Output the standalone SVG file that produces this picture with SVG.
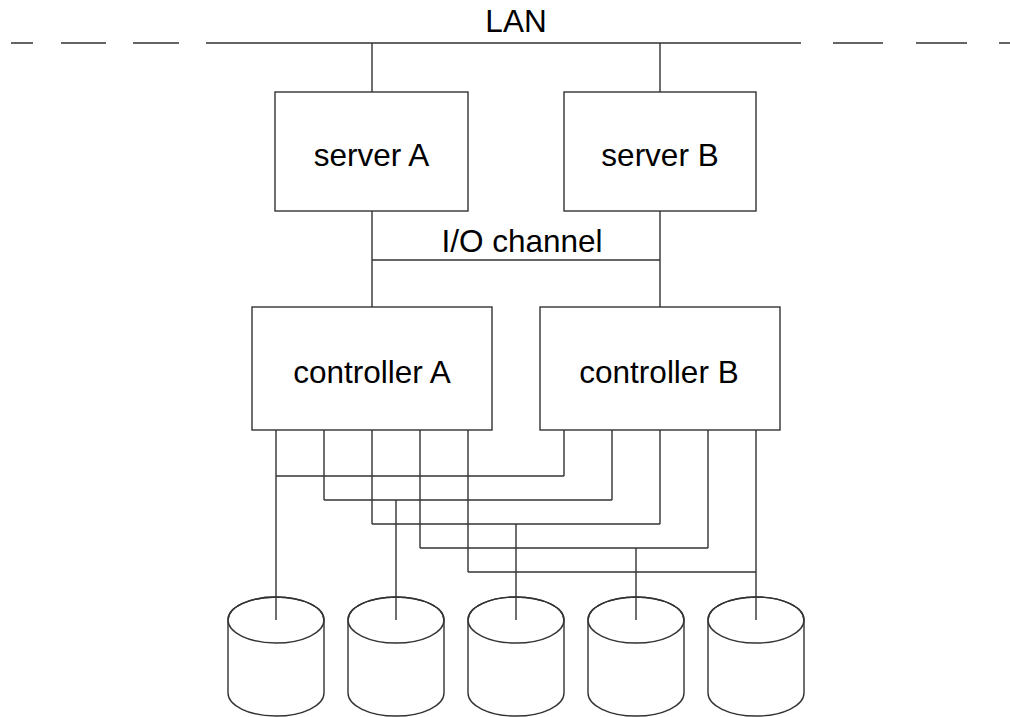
<svg xmlns="http://www.w3.org/2000/svg" width="1010" height="717" viewBox="0 0 1010 717">
<style>
.ln{stroke:#333;stroke-width:1.4;fill:none}
.box{stroke:#333;stroke-width:1.4;fill:#fff}
.t{font-family:"Liberation Sans",Arial,sans-serif;font-size:31.5px;fill:#000;text-anchor:middle}
</style>
<defs>
<g id="disk">
<path class="box" d="M-48,0 V73 A48,23 0 0 0 48,73 V0 A48,23 0 0 0 -48,0 Z"/>
<ellipse class="ln" cx="0" cy="0" rx="48" ry="23"/>
</g>
</defs>
<rect width="1010" height="717" fill="#fff"/>
<g id="lan">
<path class="ln" d="M11,43H33M61,43H106M133,43H179M206,43H801M833,43H883M916,43H967M999,43H1010"/>
<text class="t" x="516" y="32">LAN</text>
</g>
<g id="connectors">
<path class="ln" d="M372,43V92M660,43V92"/>
<path class="ln" d="M372,211V307M660,211V307M372,260H660"/>
<text class="t" x="522" y="252">I/O channel</text>
<path class="ln" d="M276,430V620M324,430V500M372,430V524M420,430V548M468,430V572"/>
<path class="ln" d="M564,430V476M612,430V500M660,430V524M708,430V548M756,430V620"/>
<path class="ln" d="M276,476H564M324,500H612M372,524H660M420,548H708M468,572H756"/>
<path class="ln" d="M396,500V620M516,524V620M636,548V620"/>
</g>
<g id="serverA"><rect class="box" x="275" y="92" width="193" height="119"/><text class="t" x="371.5" y="166">server A</text></g>
<g id="serverB"><rect class="box" x="564" y="92" width="192" height="119"/><text class="t" x="660" y="166">server B</text></g>
<g id="controllerA"><rect class="box" x="252" y="307" width="240" height="123"/><text class="t" x="372" y="383">controller A</text></g>
<g id="controllerB"><rect class="box" x="540" y="307" width="240" height="123"/><text class="t" x="659" y="383">controller B</text></g>
<g id="disk1"><use href="#disk" x="276" y="620"/></g>
<g id="disk2"><use href="#disk" x="396" y="620"/></g>
<g id="disk3"><use href="#disk" x="516" y="620"/></g>
<g id="disk4"><use href="#disk" x="636" y="620"/></g>
<g id="disk5"><use href="#disk" x="756" y="620"/></g>
<g id="disklines">
<path class="ln" d="M276,597V620M396,597V620M516,597V620M636,597V620M756,597V620"/>
</g>
</svg>
